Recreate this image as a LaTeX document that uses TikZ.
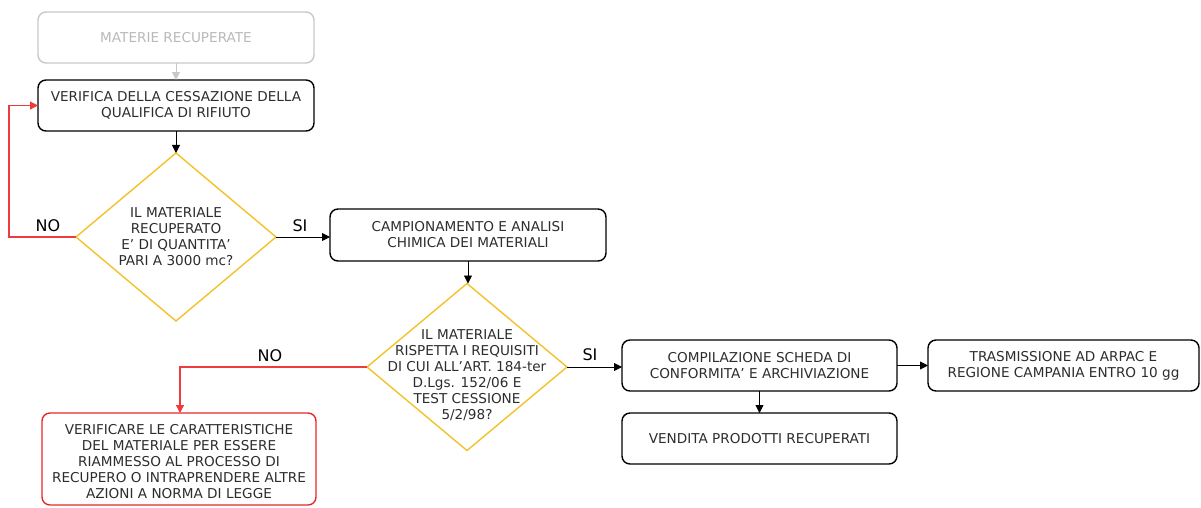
\documentclass[tikz,border=0pt]{standalone}
\usepackage{fontspec}
\setmainfont{DejaVu Sans}
\usetikzlibrary{arrows.meta,shapes.geometric}
\definecolor{txtgray}{RGB}{45,45,45}
\definecolor{palegray}{RGB}{200,200,200}
\definecolor{paletext}{RGB}{185,185,185}
\definecolor{decyellow}{RGB}{242,194,40}
\definecolor{noRed}{RGB}{232,40,40}
\definecolor{noLine}{RGB}{238,60,60}
\tikzset{
  x=1pt, y=-1pt,
  every node/.style={text=txtgray, font=\fontsize{13.6}{16}\selectfont},
  procbox/.style={draw=black, line width=1.4pt, rounded corners=8pt, align=center,
    inner sep=0pt, outer sep=0pt},
  greybox/.style={procbox, draw=palegray, text=paletext},
  redbox/.style={procbox, draw=noRed},
  decision/.style={draw=decyellow, line width=1.4pt, diamond, inner sep=0pt, outer sep=0pt},
  dectext/.style={align=center, inner sep=0pt},
  flow/.style={line width=0.8pt, -{Triangle[length=8pt,width=8pt]}},
  noflow/.style={line width=1.2pt, draw=noLine, -{Triangle[length=8pt,width=8pt,fill=noLine]}},
  answer/.style={font=\fontsize{16}{19}\selectfont, text=black, inner sep=0pt}
}
\begin{document}
\begin{tikzpicture}
\useasboundingbox (0,0) rectangle (1201,507);

% process boxes
\node[greybox, minimum width=276, minimum height=51] (start) at (176,37.5) {MATERIE RECUPERATE};
\node[procbox, minimum width=276, minimum height=51] (verify) at (176,105.5)
  {VERIFICA DELLA CESSAZIONE DELLA\\QUALIFICA DI RIFIUTO};
\node[procbox, minimum width=276, minimum height=52] (sample) at (468,235)
  {CAMPIONAMENTO E ANALISI\\CHIMICA DEI MATERIALI};
\node[procbox, minimum width=275, minimum height=51] (sheet) at (759.5,365.5)
  {COMPILAZIONE SCHEDA DI\\CONFORMITA' E ARCHIVIAZIONE};
\node[procbox, minimum width=271, minimum height=51] (send) at (1063.5,365.5)
  {TRASMISSIONE AD ARPAC E\\REGIONE CAMPANIA ENTRO 10 gg};
\node[procbox, minimum width=275, minimum height=51] (sell) at (759.5,438.5)
  {VENDITA PRODOTTI RECUPERATI};
\node[redbox, minimum width=274, minimum height=92] (check) at (179,459) {};
\node[dectext] (checktxt) at (179,462)
  {VERIFICARE LE CARATTERISTICHE\\DEL MATERIALE PER ESSERE\\RIAMMESSO AL PROCESSO DI\\RECUPERO O INTRAPRENDERE ALTRE\\AZIONI A NORMA DI LEGGE};

% decisions
\node[decision, minimum width=200, minimum height=168] (qty) at (176,237) {};
\node[dectext] (qtytxt) at (qty) {IL MATERIALE\\RECUPERATO\\E' DI QUANTITA'\\PARI A 3000 mc?};
\node[decision, minimum width=200, minimum height=167] (req) at (467,367) {};
\node[dectext] (reqtxt) at (467,375) {IL MATERIALE\\RISPETTA I REQUISITI\\DI CUI ALL'ART. 184-ter\\D.Lgs. 152/06 E\\TEST CESSIONE\\5/2/98?};

% connectors
\coordinate (loopL) at (9,237);
\coordinate (dropN) at (180,367);
\draw[flow, draw=palegray] (start) -- (verify);
\draw[flow] (verify) -- (qty);
\draw[noflow] (qty.west) -- (loopL) -- (loopL |- verify.west) -- (verify.west);
\draw[flow] (qty.east) -- (qty.east -| sample.west);
\draw[flow] (sample) -- (sample.south |- req.north);
\draw[flow] (req.east) -- (req.east -| sheet.west);
\draw[flow] (sheet) -- (send);
\draw[flow] (sheet) -- (sell);
\draw[noflow] (req.west) -- (dropN) -- (dropN |- check.north);

% answer labels
\node[answer] (no1) at (48,226) {NO};
\node[answer] (si1) at (300,226) {SI};
\node[answer] (si2) at (590,355) {SI};
\node[answer] (no2) at (270,356) {NO};
\end{tikzpicture}
\end{document}
